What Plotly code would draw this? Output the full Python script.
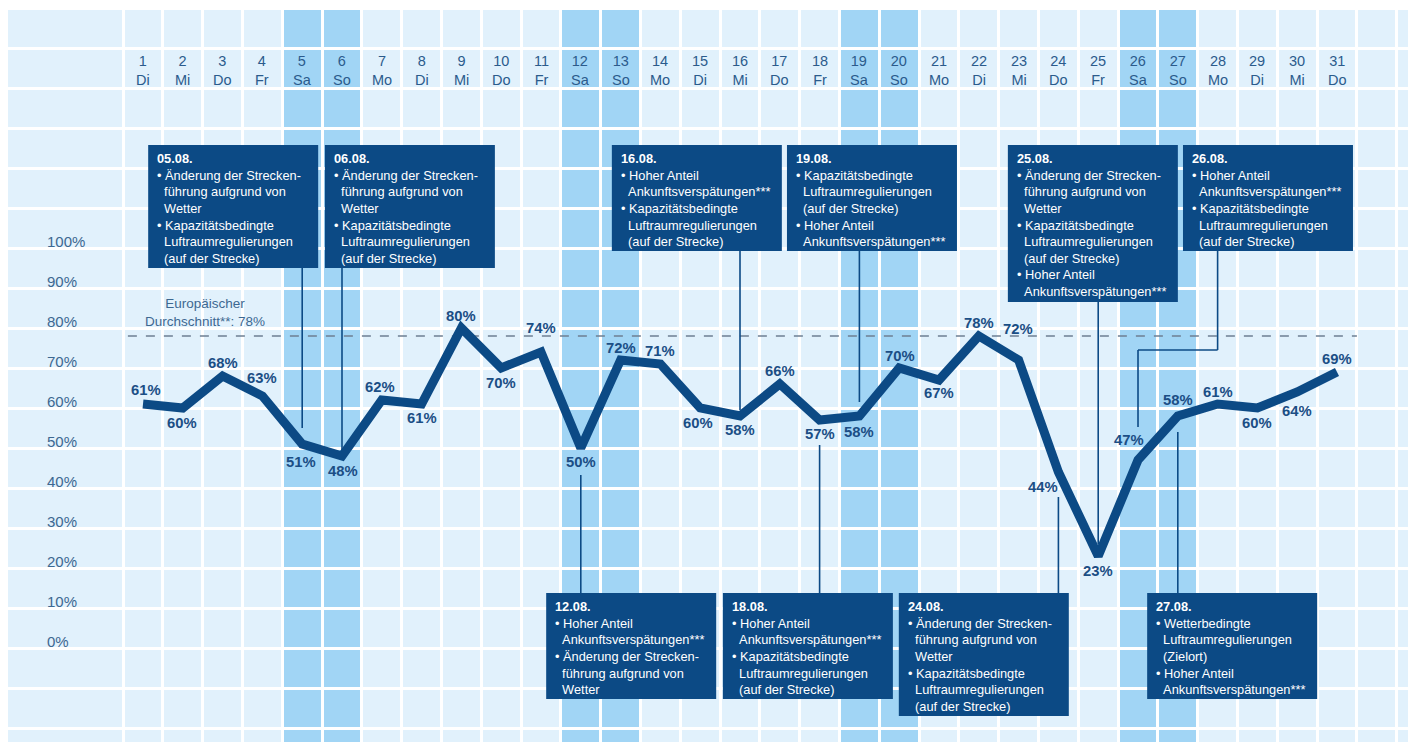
import plotly.graph_objects as go

# ---------------- data ----------------
days = list(range(1, 32))
weekdays = ["Di", "Mi", "Do", "Fr", "Sa", "So", "Mo",
            "Di", "Mi", "Do", "Fr", "Sa", "So", "Mo",
            "Di", "Mi", "Do", "Fr", "Sa", "So", "Mo",
            "Di", "Mi", "Do", "Fr", "Sa", "So", "Mo",
            "Di", "Mi", "Do"]
values = [61, 60, 68, 63, 51, 48, 62, 61, 80, 70, 74, 50, 72, 71, 60, 58,
          66, 57, 58, 70, 67, 78, 72, 44, 23, 47, 58, 61, 60, 64, 69]
weekend_days = [5, 6, 12, 13, 19, 20, 26, 27]
eu_average = 78
y_ticks = [0, 10, 20, 30, 40, 50, 60, 70, 80, 90, 100]
y_tick_labels = [f"{v}%" for v in y_ticks]

CHANGE = ["Änderung der Strecken-", "führung aufgrund von", "Wetter"]
CAPACITY = ["Kapazitätsbedingte", "Luftraumregulierungen", "(auf der Strecke)"]
ARRIVAL = ["Hoher Anteil", "Ankunftsverspätungen***"]
WEATHER_DEST = ["Wetterbedingte", "Luftraumregulierungen", "(Zielort)"]

event_days = [5, 6, 16, 19, 25, 26, 12, 18, 24, 27]
event_dates = ["05.08.", "06.08.", "16.08.", "19.08.", "25.08.", "26.08.",
               "12.08.", "18.08.", "24.08.", "27.08."]
event_reasons = [
    [CHANGE, CAPACITY],
    [CHANGE, CAPACITY],
    [ARRIVAL, CAPACITY],
    [CAPACITY, ARRIVAL],
    [CHANGE, CAPACITY, ARRIVAL],
    [ARRIVAL, CAPACITY],
    [ARRIVAL, CHANGE],
    [ARRIVAL, CAPACITY],
    [CHANGE, CAPACITY],
    [WEATHER_DEST, ARRIVAL],
]

# ---------------- styling / layout helpers ----------------
NAVY = "#0c4a85"
LABEL_BLUE = "#1b4e85"
AXIS_BLUE = "#3d6891"
CELL = "#e1f1fc"
WEEKEND = "#a1d5f5"
FONT = "Liberation Sans, Arial, sans-serif"

PX_PER_DAY = 39.8
PX_PER_PCT = 4.0

# value label offsets in px (dx, dy; dy positive = downward)
label_offsets = {
    1: (3, -14), 2: (-1, 15), 3: (0, -13), 4: (0, -18), 5: (-1, 18), 6: (1, 15),
    7: (-2, -13), 8: (0, 14), 9: (0, -12), 10: (0, 15), 11: (0, -24), 12: (0, 14),
    13: (0, -12), 14: (0, -13), 15: (-2, 15), 16: (0, 14), 17: (0, -13), 18: (0, 14),
    19: (0, 16), 20: (1, -12), 21: (0, 13), 22: (0, -13), 23: (-1, -31), 24: (-15, 15),
    25: (0, 15), 26: (-9, -20), 27: (0, -16), 28: (0, -12), 29: (0, 15), 30: (0, 19),
    31: (0, -13),
}

# box placement: day -> (left edge in days, "top"/"bottom", connector end in %)
box_place = {
    5: (1.13, "top", 55.0),
    6: (5.57, "top", 49.5),
    16: (12.78, "top", 59.5),
    19: (17.18, "top", 61.5),
    25: (22.73, "top", 26.0),
    26: (27.13, "top", 55.25),
    12: (11.13, "bottom", 43.25),
    18: (15.57, "bottom", 50.75),
    24: (19.99, "bottom", 37.75),
    27: (26.23, "bottom", 54.0),
}
TOP_BOX_Y = 125.75
BOTTOM_BOX_Y = 13.75
BOX_W_DAYS = 170 / PX_PER_DAY

fig = go.Figure()

fig.add_trace(go.Scatter(
    x=days, y=values, mode="lines",
    line=dict(color=NAVY, width=9, shape="linear"),
    hoverinfo="skip", showlegend=False,
))

shapes = []
annotations = []

# weekend columns
for d in weekend_days:
    shapes.append(dict(type="rect", xref="x", yref="paper", x0=d - 0.5, x1=d + 0.5,
                       y0=0, y1=1, fillcolor=WEEKEND, line=dict(width=0), layer="below"))

# European average line
shapes.append(dict(type="line", xref="x", yref="y", x0=0.62, x1=31.5,
                   y0=eu_average, y1=eu_average,
                   line=dict(color="#6d7f92", width=1.6, dash="dash"), layer="between"))
annotations.append(dict(x=2.55, y=eu_average + 5.9, xref="x", yref="y",
                        text=f"Europäischer<br>Durchschnitt**: {eu_average}%",
                        showarrow=False, font=dict(family=FONT, size=13.5, color=AXIS_BLUE),
                        align="center", xanchor="center", yanchor="middle"))

# day labels
for d, wd in zip(days, weekdays):
    annotations.append(dict(x=d, y=144.5, xref="x", yref="y",
                            text=f"{d}<br>{wd}", showarrow=False,
                            font=dict(family=FONT, size=14.5, color="#2b5b8c"),
                            align="center", xanchor="center", yanchor="middle"))

# value labels
for d, v in zip(days, values):
    dx, dy = label_offsets[d]
    annotations.append(dict(x=d, y=v, xref="x", yref="y", text=f"<b>{v}%</b>",
                            showarrow=False, xshift=dx, yshift=-dy,
                            font=dict(family=FONT, size=14.8, color=LABEL_BLUE),
                            xanchor="center", yanchor="middle"))

# event boxes
for d, date, reasons in zip(event_days, event_dates, event_reasons):
    left, side, end_val = box_place[d]
    nlines = 1 + sum(len(r) for r in reasons)
    h_pct = (4 + 17 * nlines) / PX_PER_PCT
    top = TOP_BOX_Y if side == "top" else BOTTOM_BOX_Y
    bottom = top - h_pct
    shapes.append(dict(type="rect", xref="x", yref="y", x0=left, x1=left + BOX_W_DAYS,
                       y0=bottom, y1=top, fillcolor=NAVY, line=dict(width=0), layer="above"))
    lines = [f"<b>{date}</b>"]
    for r in reasons:
        lines.append("•\u00a0" + r[0])
        for cont in r[1:]:
            lines.append("\u00a0\u00a0" + cont)
    annotations.append(dict(x=left, y=top, xref="x", yref="y", text="<br>".join(lines),
                            showarrow=False, xanchor="left", yanchor="top",
                            xshift=7, yshift=-4, align="left",
                            font=dict(family=FONT, size=12.8, color="white")))
    # connectors
    cl = dict(color=NAVY, width=1.6)
    if side == "top":
        if d == 26:
            elbow_y = 74.5
            shapes.append(dict(type="line", xref="x", yref="y", x0=28, x1=28,
                               y0=bottom, y1=elbow_y, line=cl, layer="above"))
            shapes.append(dict(type="line", xref="x", yref="y", x0=28, x1=26,
                               y0=elbow_y, y1=elbow_y, line=cl, layer="above"))
            shapes.append(dict(type="line", xref="x", yref="y", x0=26, x1=26,
                               y0=elbow_y, y1=end_val, line=cl, layer="above"))
        else:
            shapes.append(dict(type="line", xref="x", yref="y", x0=d, x1=d,
                               y0=bottom, y1=end_val, line=cl, layer="above"))
    else:
        shapes.append(dict(type="line", xref="x", yref="y", x0=d, x1=d,
                           y0=end_val, y1=top, line=cl, layer="above"))

# page body has an 8px default margin; size the figure to fit the window
fig.update_layout(
    width=1408, height=734,
    margin=dict(l=0, r=6, t=2, b=0),
    paper_bgcolor="white", plot_bgcolor=CELL,
    showlegend=False,
    shapes=shapes, annotations=annotations,
    xaxis=dict(range=[-2.392, 32.834], showticklabels=False, zeroline=False,
               showgrid=True, tick0=0.5, dtick=1, gridcolor="white", gridwidth=3,
               showline=False, ticks="", fixedrange=True),
    yaxis=dict(range=[-23.5, 159.5], tickvals=y_ticks, ticktext=y_tick_labels,
               ticklabelposition="inside", ticklabelstandoff=36, ticklabelshift=-6,
               tickfont=dict(family=FONT, size=15, color=AXIS_BLUE),
               showgrid=True, gridcolor="white", gridwidth=3, zeroline=False,
               minor=dict(tick0=0, dtick=10, showgrid=True, gridcolor="white", gridwidth=3),
               showline=False, ticks="", fixedrange=True, automargin=False),
)

fig.write_html("out.html")
